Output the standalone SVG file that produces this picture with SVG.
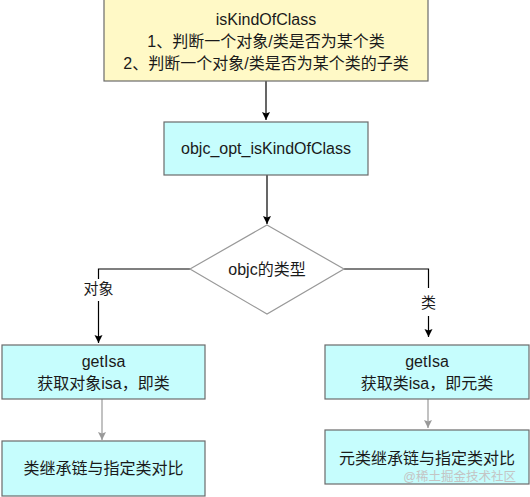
<svg xmlns="http://www.w3.org/2000/svg" width="530" height="497" viewBox="0 0 530 497">
<defs>
<style>
text{font-family:"Liberation Sans","Noto Sans CJK SC",sans-serif;font-size:16px;fill:#1a1a1a;text-anchor:middle}
.box{stroke:#6b6b6b;stroke-width:1.2}
.y{fill:#fff9c6}
.c{fill:#c6fdfd}
.edge{fill:none;stroke:#000;stroke-width:1.2}
.gedge{fill:none;stroke:#999;stroke-width:1.2}
.lbl{font-size:15px}
.wm{font-size:12.5px;fill:#c4c4c4;text-anchor:end}
</style>
<marker id="ah" viewBox="0 0 10 10" refX="10" refY="5" markerWidth="8" markerHeight="10" markerUnits="userSpaceOnUse" orient="auto"><path d="M0,0 L10,5 L0,10 L2,5 Z" fill="#000"/></marker>
<marker id="ahg" viewBox="0 0 10 10" refX="10" refY="5" markerWidth="8" markerHeight="10" markerUnits="userSpaceOnUse" orient="auto"><path d="M0,0 L10,5 L0,10 L2,5 Z" fill="#999"/></marker>
</defs>
<rect width="530" height="497" fill="#fff"/>
<g id="connectors">
<path class="edge" d="M266,81 V120" marker-end="url(#ah)"/>
<path class="edge" d="M267,175 V224" marker-end="url(#ah)"/>
<path class="edge" d="M190,269 H98.5 V343" marker-end="url(#ah)"/>
<path class="edge" d="M344,269 H428.5 V337" marker-end="url(#ah)"/>
<path class="gedge" d="M102,399 V440" marker-end="url(#ahg)"/>
<path class="gedge" d="M428,399 V428" marker-end="url(#ahg)"/>
<g id="label-obj"><rect x="80" y="279" width="37" height="22" fill="#fff"/><text class="lbl" x="98.5" y="294">对象</text></g>
<g id="label-cls"><rect x="418" y="288" width="21" height="28" fill="#fff"/><text class="lbl" x="428.5" y="308">类</text></g>
</g>
<g id="n-top"><rect class="box y" x="104" y="-1" width="324" height="82"/>
<text x="266" y="25">isKindOfClass</text>
<text x="266" y="47">1、判断一个对象/类是否为某个类</text>
<text x="266" y="69">2、判断一个对象/类是否为某个类的子类</text></g>
<g id="n-opt"><rect class="box c" x="164" y="122" width="204" height="53"/>
<text x="266" y="154">objc_opt_isKindOfClass</text></g>
<g id="n-dec"><polygon points="267,225 344,269 267,314 190,269" fill="#fff" stroke="#999" stroke-width="1.2"/>
<text x="267" y="275">objc的类型</text></g>
<g id="n-getisa-obj"><rect class="box c" x="2" y="345" width="203" height="54"/>
<text x="103.5" y="367">getIsa</text>
<text x="103.5" y="389">获取对象isa，即类</text></g>
<g id="n-getisa-cls"><rect class="box c" x="325" y="345" width="204" height="54"/>
<text x="427" y="367">getIsa</text>
<text x="427" y="389">获取类isa，即元类</text></g>
<g id="n-cmp-obj"><rect class="box c" x="2" y="441" width="203" height="55"/>
<text x="103.5" y="474">类继承链与指定类对比</text></g>
<g id="n-cmp-cls"><rect class="box c" x="325" y="430" width="204" height="54"/>
<text x="427" y="464">元类继承链与指定类对比</text></g>
<text class="wm" x="516" y="481">@稀土掘金技术社区</text>
</svg>
